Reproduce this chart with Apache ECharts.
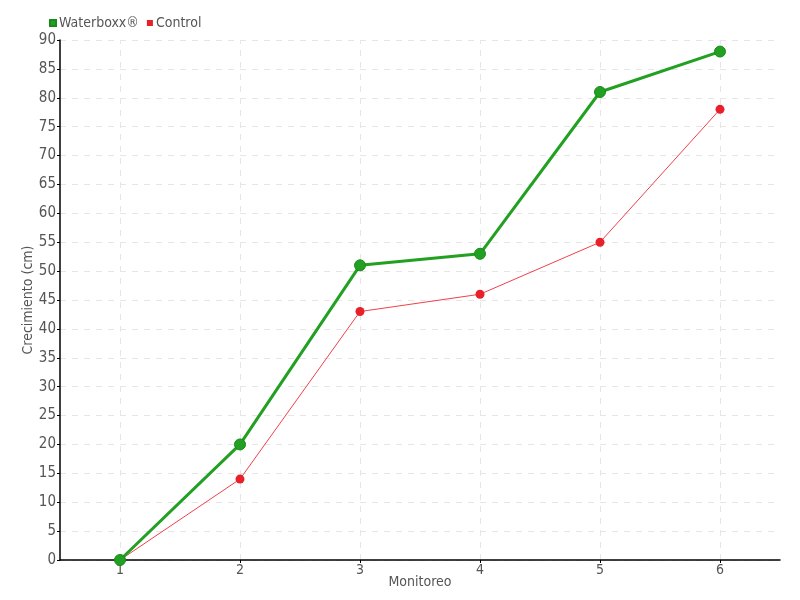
<!DOCTYPE html>
<html><head><meta charset="utf-8">
<script src="https://cdn.jsdelivr.net/npm/echarts@6/dist/echarts.min.js"></script>
<style>html,body{margin:0;padding:0;background:#fff}#c{width:800px;height:600px}</style>
</head><body><div id="c"></div>
<script>
const categories = ['1','2','3','4','5','6'];
const waterboxx = [0, 20, 51, 53, 81, 88];
const control = [0, 14, 43, 46, 55, 78];
const yMin = 0, yMax = 90, yStep = 5;

const font = '"DejaVu Sans Condensed", sans-serif';
const chart = echarts.init(document.getElementById('c'));
chart.setOption({
  animation: false,
  textStyle: { fontFamily: font },
  legend: {
    left: 44, top: 11, itemWidth: 6, itemHeight: 6, itemGap: 8,
    icon: 'rect',
    textStyle: { fontSize: 14, color: '#555', fontFamily: font, padding: [0,0,0,-2] },
    data: ['Waterboxx®', 'Control']
  },
  grid: { left: 60, right: 20, top: 40, bottom: 40 },
  xAxis: {
    type: 'category', data: categories, boundaryGap: true,
    name: 'Monitoreo', nameLocation: 'middle', nameGap: 15, nameMoveOverlap: false,
    nameTextStyle: { fontSize: 14, color: '#555', fontFamily: font },
    axisLine: { lineStyle: { color: '#000', width: 1.5 } },
    axisTick: { show: true, alignWithLabel: true, length: 3, lineStyle: { color: '#000' } },
    axisLabel: { fontSize: 14, color: '#555', margin: 3, fontFamily: font },
    splitLine: { show: false }
  },
  yAxis: {
    type: 'value', min: yMin, max: yMax, interval: yStep,
    name: 'Crecimiento (cm)', nameLocation: 'middle', nameGap: 25, nameMoveOverlap: false,
    nameTextStyle: { fontSize: 14, color: '#555', fontFamily: font },
    axisLine: { show: true, lineStyle: { color: '#000', width: 1.5 } },
    axisTick: { show: true, length: 3, inside: false, lineStyle: { color: '#000' } },
    axisLabel: { fontSize: 15, color: '#555', margin: 4, fontFamily: font },
    splitLine: { show: true, lineStyle: { color: '#e6e6e6', type: [6, 6], width: 1 } }
  },
  series: [
    {
      name: 'Control', type: 'line', data: control, z: 2,
      symbol: 'circle', symbolSize: 9,
      itemStyle: { color: '#e8202a' },
      lineStyle: { color: '#f0404a', width: 1 },
      markLine: {
        silent: true, symbol: 'none', label: { show: false }, z: 0,
        lineStyle: { color: '#e6e6e6', type: [6, 6], width: 1 },
        data: categories.map(c => ({ xAxis: c }))
      }
    },
    {
      name: 'Waterboxx®', type: 'line', data: waterboxx, z: 3,
      symbol: 'circle', symbolSize: 11,
      itemStyle: { color: '#22a022', borderColor: '#1a8a1a', borderWidth: 1 },
      lineStyle: { color: '#22a022', width: 3 }
    }
  ]
});
</script></body></html>
